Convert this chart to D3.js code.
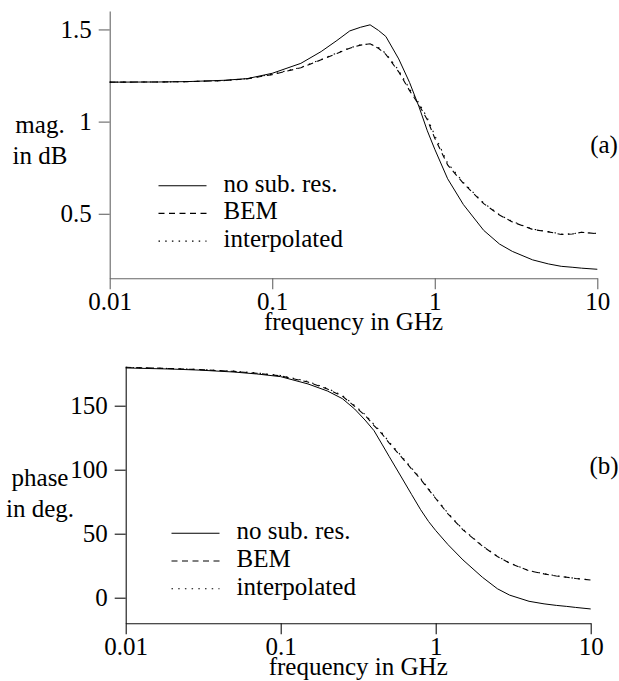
<!DOCTYPE html>
<html>
<head>
<meta charset="utf-8">
<script src="https://cdn.jsdelivr.net/npm/d3@7"></script>
<style>
  svg text { font-family: 'Liberation Serif' !important; }
</style>
</head>
<body style="margin:0">
<script>
// frequencies in GHz (shared by every curve)
const freqs = [0.01, 0.02, 0.03, 0.05, 0.07, 0.1, 0.15, 0.2, 0.25, 0.3, 0.35, 0.4, 0.45, 0.5,
  0.6, 0.7, 0.8, 0.9, 1, 1.2, 1.5, 2, 2.5, 3, 4, 5, 6, 7, 8, 10];

// (a) magnitude in dB
const magNoSub = [1.214, 1.215, 1.217, 1.224, 1.233, 1.262, 1.316, 1.38, 1.44, 1.492, 1.512, 1.525, 1.495, 1.462,
  1.34, 1.212, 1.08, 0.95, 0.85, 0.69, 0.55, 0.41, 0.336, 0.296, 0.25, 0.228, 0.215, 0.21, 0.205, 0.199];
const magBEM = [1.214, 1.215, 1.217, 1.222, 1.232, 1.255, 1.292, 1.335, 1.37, 1.398, 1.415, 1.422, 1.398, 1.365,
  1.27, 1.168, 1.09, 1.01, 0.91, 0.765, 0.665, 0.555, 0.493, 0.456, 0.415, 0.402, 0.388, 0.39, 0.4, 0.392];
const magInterp = [1.214, 1.215, 1.217, 1.222, 1.233, 1.257, 1.294, 1.337, 1.372, 1.4, 1.417, 1.421, 1.402, 1.37,
  1.278, 1.177, 1.1, 1.02, 0.925, 0.775, 0.67, 0.558, 0.495, 0.458, 0.417, 0.403, 0.39, 0.391, 0.399, 0.393];

// (b) phase in degrees
const phaseNoSub = [179.5, 178.6, 177.8, 176.3, 174.8, 172.7, 167, 161.5, 155.5, 147.4, 138.8, 130.5, 120, 110.5,
  94.3, 80.5, 68.7, 59.5, 52.5, 41.5, 29.5, 16, 7, 2, -2.8, -4.8, -6, -6.8, -7.6, -8.8];
const phaseBEM = [180, 179, 178.2, 176.8, 175.3, 173.3, 168.5, 163, 157.5, 149.5, 142.5, 134.5, 128, 121,
  110, 100.5, 92.5, 84.5, 77.5, 65.5, 53, 40.3, 32.2, 27, 21, 18.6, 17, 16, 15, 13.8];
const phaseInterp = [180, 179, 178.3, 177, 175.6, 173.6, 168.9, 163.5, 158, 150.2, 143.2, 135.3, 128.8, 121.8,
  110.8, 101.2, 93.1, 85.1, 78, 66, 53.4, 40.6, 32.4, 27.2, 21.2, 18.7, 17.1, 16, 15.1, 13.9];

const freqTicks = [0.01, 0.1, 1, 10];
const magTicks = [0.5, 1, 1.5];
const phaseTicks = [0, 50, 100, 150];
const seriesNames = ["no sub. res.", "BEM", "interpolated"];

const width = 619, height = 681;
const fontSize = 25;
const dashes = [null, "6,4.5", "1.5,5.2"];

const svg = d3.select("body").append("svg")
  .attr("width", width)
  .attr("height", height)
  .attr("font-family", "Liberation Serif");

function label(sel) {
  return sel.attr("font-family", "Liberation Serif")
    .style("font-family", "'Liberation Serif'")
    .style("font-size", fontSize + "px")
    .attr("fill", "#000");
}

function drawPanel(p) {
  const x = d3.scaleLog().domain([0.01, 10]).range([p.left, p.right]);
  const y = d3.scaleLinear().domain(p.yDomain).range([p.bottom, p.top]);
  const g = svg.append("g");

  const xAxis = g.append("g")
    .attr("transform", `translate(0,${p.bottom})`)
    .call(d3.axisBottom(x).tickValues(freqTicks).tickFormat(d => String(d))
      .tickSize(11).tickSizeOuter(0).tickPadding(3));
  const yAxis = g.append("g")
    .attr("transform", `translate(${p.left},0)`)
    .call(d3.axisLeft(y).tickValues(p.yTicks).tickFormat(d => String(d))
      .tickSize(11).tickSizeOuter(0).tickPadding(7));

  [xAxis, yAxis].forEach(a => {
    a.attr("font-family", "Liberation Serif").attr("font-size", fontSize);
    a.selectAll("path, line").attr("stroke", p.axisColor).attr("stroke-width", 1.1);
    label(a.selectAll("text"));
  });

  const line = d3.line()
    .x((d, i) => x(freqs[i]))
    .y(d => y(d));

  p.series.forEach((vals, k) => {
    g.append("path")
      .datum(vals)
      .attr("d", line)
      .attr("fill", "none")
      .attr("stroke", "#000")
      .attr("stroke-width", k == 0 ? 1 : 1.1)
      .attr("stroke-dasharray", dashes[k]);
  });

  // legend
  seriesNames.forEach((name, k) => {
    const ly = p.legendY + k * 27.7;
    g.append("line")
      .attr("x1", p.legendX).attr("x2", p.legendX + 48)
      .attr("y1", ly).attr("y2", ly)
      .attr("stroke", "#000").attr("stroke-width", 1.1)
      .attr("stroke-dasharray", dashes[k]);
    label(g.append("text"))
      .attr("x", p.legendX + 65).attr("y", ly + 6)
      .text(name);
  });

  // y title (two lines)
  p.yTitle.forEach((t, k) => {
    label(g.append("text"))
      .attr("x", 40).attr("y", p.yTitleY + k * 31)
      .attr("text-anchor", "middle")
      .text(t);
  });

  label(g.append("text"))
    .attr("x", (p.left + p.right) / 2).attr("y", p.bottom + 52)
    .attr("text-anchor", "middle")
    .text("frequency in GHz");

  label(g.append("text"))
    .attr("x", 604).attr("y", p.tagY)
    .attr("text-anchor", "middle")
    .text(p.tag);
}

drawPanel({
  left: 109.7, right: 597.3, top: 11, bottom: 278.3,
  yDomain: [0.15, 1.6], yTicks: magTicks,
  series: [magNoSub, magBEM, magInterp],
  axisColor: "#666",
  legendX: 158.5, legendY: 185.7,
  yTitle: ["mag.", "in dB"], yTitleY: 133,
  tag: "(a)", tagY: 153
});

drawPanel({
  left: 125.7, right: 590.7, top: 367.3, bottom: 623.3,
  yDomain: [-20, 180], yTicks: phaseTicks,
  series: [phaseNoSub, phaseBEM, phaseInterp],
  axisColor: "#111",
  legendX: 171.5, legendY: 533.3,
  yTitle: ["phase", "in deg."], yTitleY: 486,
  tag: "(b)", tagY: 474
});
</script>
</body>
</html>
